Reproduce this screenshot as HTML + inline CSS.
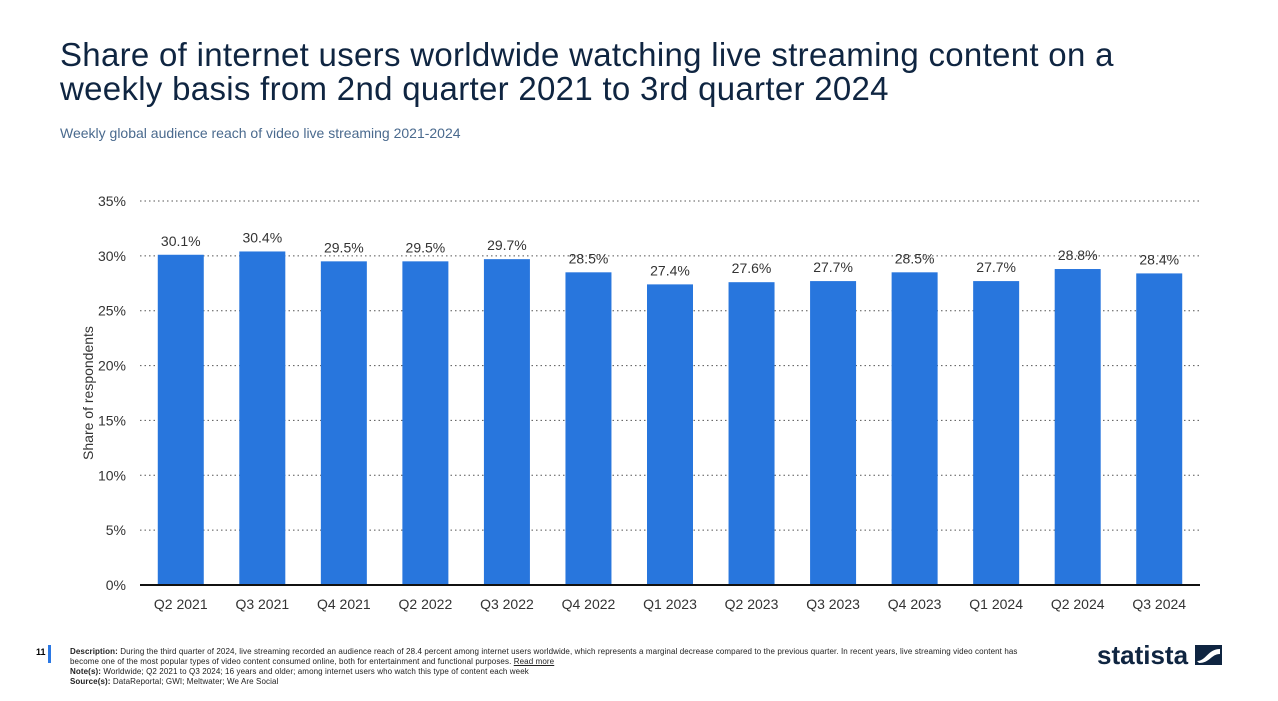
<!DOCTYPE html>
<html><head><meta charset="utf-8"><style>
body{margin:0;width:1278px;height:701px;background:#fff;font-family:"Liberation Sans",sans-serif;overflow:hidden;position:relative}
.title{position:absolute;left:60px;top:38px;font-size:33px;line-height:34px;color:#0f2541;margin:0;font-weight:normal;letter-spacing:0.3px;white-space:nowrap}
.sub{position:absolute;left:60px;top:125px;font-size:14px;color:#4a6a8e}
.foot{position:absolute;left:70px;top:647px;font-size:8px;line-height:10px;color:#222;width:980px;letter-spacing:0.1px}
.pn{position:absolute;left:36px;top:647px;font-size:9px;font-weight:bold}
.bar{position:absolute;left:48px;top:645px;width:3px;height:18px;background:#2b78e4}
.logo{position:absolute;left:1097px;top:640px;font-size:26px;font-weight:bold;color:#0f2541;white-space:nowrap}
</style></head><body>
<h1 class="title">Share of internet users worldwide watching live streaming content on a<br>weekly basis from 2nd quarter 2021 to 3rd quarter 2024</h1>
<div class="sub">Weekly global audience reach of video live streaming 2021-2024</div>
<svg id="chart" width="1278" height="701" style="position:absolute;left:0;top:0"></svg>
<div class="pn">11</div>
<div class="bar"></div>
<div class="foot"><b>Description:</b> During the third quarter of 2024, live streaming recorded an audience reach of 28.4 percent among internet users worldwide, which represents a marginal decrease compared to the previous quarter. In recent years, live streaming video content has<br>become one of the most popular types of video content consumed online, both for entertainment and functional purposes. <u>Read more</u><br><b>Note(s):</b> Worldwide; Q2 2021 to Q3 2024; 16 years and older; among internet users who watch this type of content each week<br><b>Source(s):</b> DataReportal; GWI; Meltwater; We Are Social</div>
<div class="logo">statista <svg width="27" height="20" style="vertical-align:-1px"><rect width="27" height="20" fill="#0f2541"/><path d="M2 16 C11 16 13 4 25 4 L25 9 C16 9 15 18 4 18Z" fill="#fff"/></svg></div>
<script>
const categories=["Q2 2021","Q3 2021","Q4 2021","Q2 2022","Q3 2022","Q4 2022","Q1 2023","Q2 2023","Q3 2023","Q4 2023","Q1 2024","Q2 2024","Q3 2024"];
const values=[30.1,30.4,29.5,29.5,29.7,28.5,27.4,27.6,27.7,28.5,27.7,28.8,28.4];
const ticks=[0,5,10,15,20,25,30,35];
const svg=document.getElementById('chart');const NS='http://www.w3.org/2000/svg';
const L=140,R=1200,Y0=585,Y35=201;
const y=v=>Y0-(v/35)*(Y0-Y35);
const step=(R-L)/categories.length;const x=i=>L+step*(i+0.5);
function mk(t,a,txt){const e=document.createElementNS(NS,t);for(const k in a)e.setAttribute(k,a[k]);if(txt!=null)e.textContent=txt;svg.appendChild(e);return e;}
ticks.forEach(t=>{
 if(t>0){const g=mk('line',{x1:L,x2:R,y1:y(t),y2:y(t),stroke:'#555','stroke-dasharray':'1.5 3','stroke-width':1});
 
 }
 const l=mk('text',{x:126,y:y(t)+5,'text-anchor':'end','font-size':14,fill:'#333','font-family':'Liberation Sans'},t+'%');
 
 
});
values.forEach((v,i)=>{
 const b=mk('rect',{x:x(i)-23,y:y(v),width:46,height:Y0-y(v),fill:'#2876dd'});
 
 
 const lb=mk('text',{x:x(i),y:y(v)-9,'text-anchor':'middle','font-size':14,fill:'#333','font-family':'Liberation Sans'},v.toFixed(1)+'%');
 
 
 const c=mk('text',{x:x(i),y:609,'text-anchor':'middle','font-size':14,fill:'#333','font-family':'Liberation Sans'},categories[i]);
 
 
});
const ax=mk('line',{x1:L,x2:R,y1:Y0,y2:Y0,stroke:'#111','stroke-width':2});


const yt=mk('text',{x:0,y:0,transform:'translate(93,393) rotate(-90)','text-anchor':'middle','font-size':14,fill:'#333','font-family':'Liberation Sans'},'Share of respondents');


</script>
</body></html>
